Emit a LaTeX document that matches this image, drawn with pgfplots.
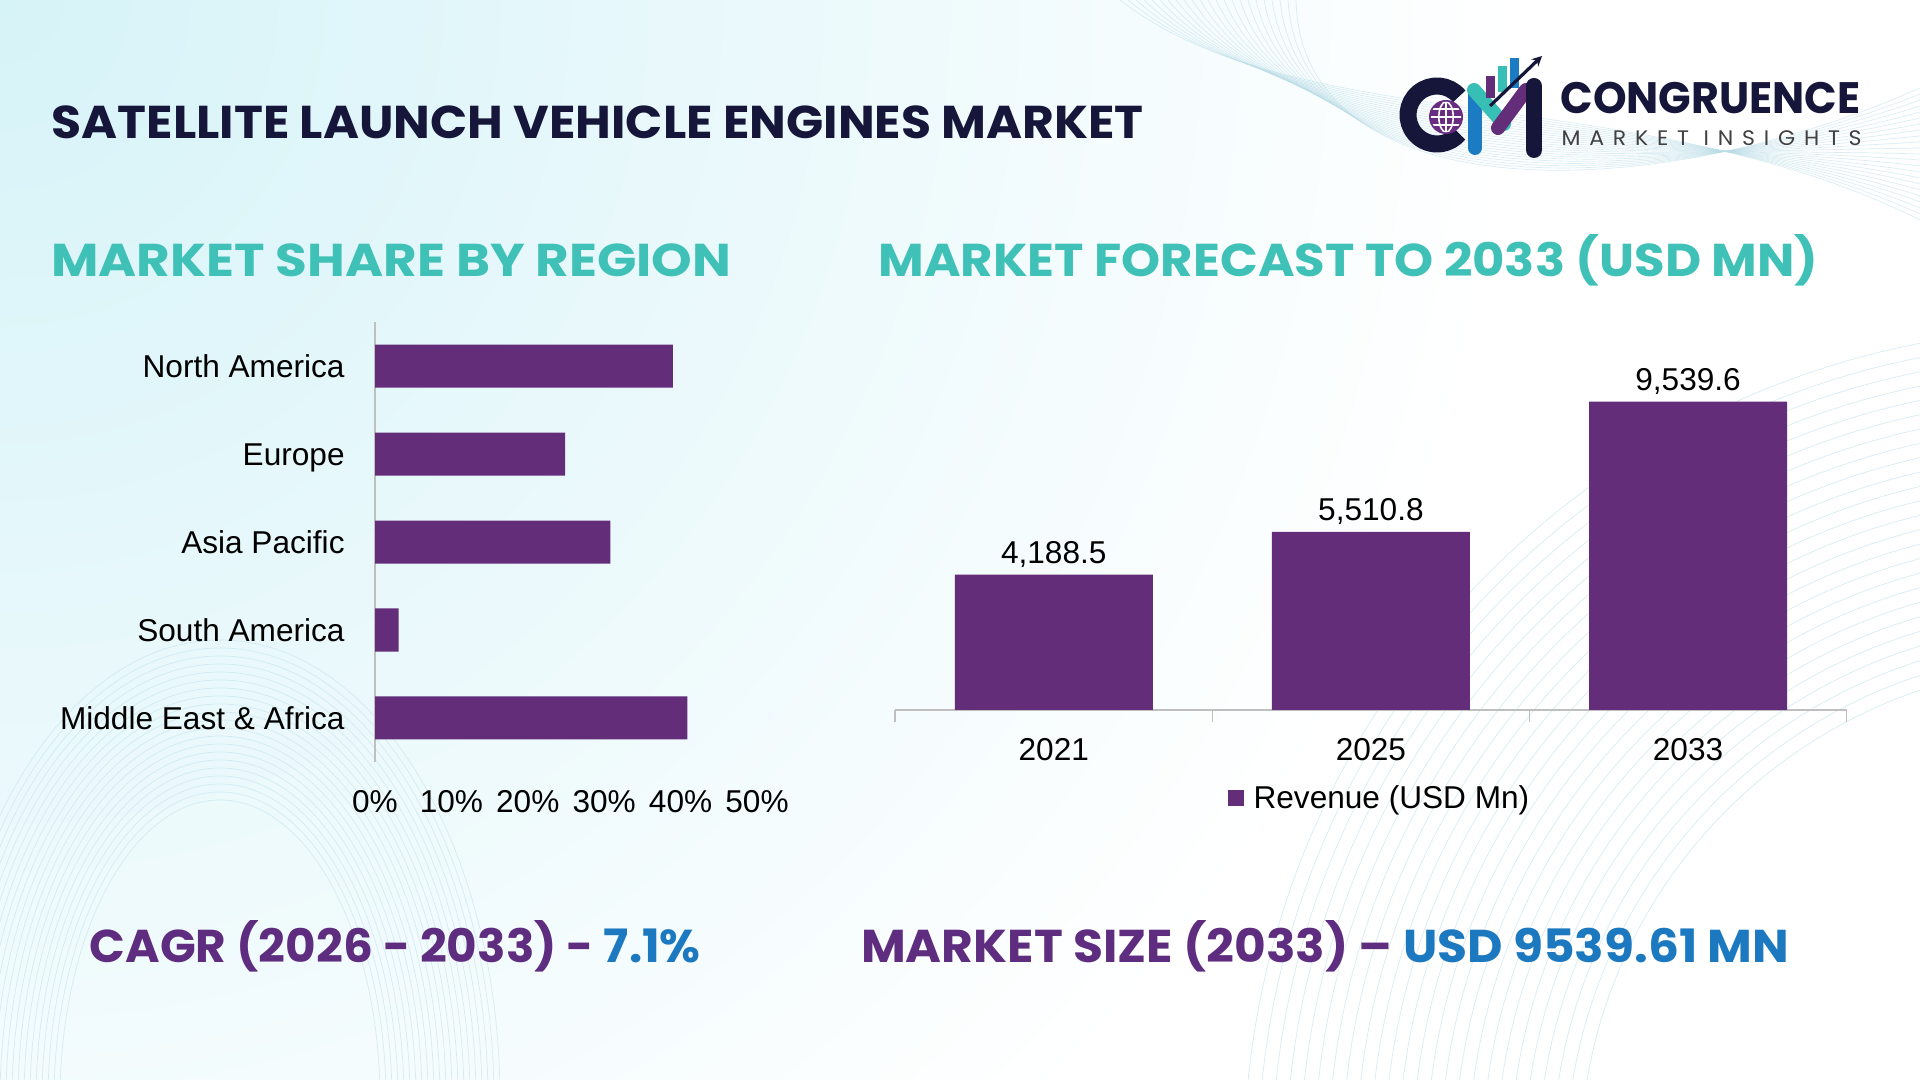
\documentclass[border=0pt]{standalone}
\usepackage{pgfplots}
\pgfplotsset{compat=1.18}
\usepackage{graphicx}
\usepackage{fontspec}
\usetikzlibrary{arrows.meta}
\setmainfont{Liberation Sans}
\newfontfamily\headfont{Poppins}
\newfontfamily\logosubfont{Poppins}[LetterSpace=40]

\definecolor{barpurple}{HTML}{632D7A}
\definecolor{titlenavy}{HTML}{15163A}
\definecolor{headteal}{HTML}{3FC1B7}
\definecolor{statpurple}{HTML}{5E2D80}
\definecolor{statblue}{HTML}{1C79C0}
\definecolor{logoblue}{HTML}{1B7CC3}
\definecolor{logoteal}{HTML}{38BFB5}
\definecolor{logopurple}{HTML}{6A2C82}
\definecolor{bgcyan}{HTML}{D6F3F8}
\definecolor{meshblue}{HTML}{B9DDE8}
\definecolor{axisgray}{HTML}{BFBFBF}

% squeeze or stretch a line of text horizontally to a given width (in pt)
\newlength\natw
\newcommand\fitw[2]{\settowidth\natw{#2}\pgfmathsetmacro\fitsc{#1/\natw}\scalebox{\fitsc}[1]{#2}}

\newcommand\chartfont{\fontsize{15.8}{18}\selectfont}
\newcommand\headsize{\headfont\bfseries\fontsize{23}{26}\selectfont}

% regional share (%)
\pgfplotstableread{
idx share
0 39.0
1 24.9
2 30.8
3 3.1
4 40.9
}\regionshare

% revenue forecast (USD Mn)
\pgfplotstableread{
idx revenue
0 4188.5
1 5510.8
2 9539.6
}\revenue

\pgfplotsset{/pgf/number format/assume math mode=true}

\begin{document}
\begin{tikzpicture}[x=1pt,y=1pt]
\path[use as bounding box] (0,0) rectangle (960,540);

% background
\begin{scope}
\clip (0,0) rectangle (960,540);
\fill[white] (0,0) rectangle (960,540);
\shade[inner color=bgcyan, outer color=white] (0,540) circle (760);
% faint wave mesh
\foreach \r in {250,257,...,420}
  \draw[meshblue, line width=0.35pt, opacity=0.55] (1040,-42) circle (\r);
\foreach \i in {0,...,22}
  \draw[meshblue, line width=0.35pt, opacity=0.5]
    (560+\i*4,540) .. controls (650,470-\i*1.5) and (820,500-\i*3) .. (960,430+\i*3);
\foreach \i in {0,...,20}
  \draw[meshblue, line width=0.35pt, opacity=0.5]
    (110,-10) ellipse ({80+\i*3} and {150+\i*4});
\end{scope}

% headings
\node[anchor=base west, inner sep=0, text=titlenavy] at (25.7,470.7)
  {\fitw{546}{\headsize SATELLITE LAUNCH VEHICLE ENGINES MARKET}};
\node[anchor=base west, inner sep=0, text=headteal] at (25.5,401.6)
  {\fitw{340}{\headsize MARKET SHARE BY REGION}};
\node[anchor=base west, inner sep=0, text=headteal] at (439,401.6)
  {\fitw{470}{\headsize MARKET FORECAST TO 2033 (USD MN)}};
\node[anchor=base west, inner sep=0] at (44.7,58.8)
  {\fitw{305.5}{\headsize\color{statpurple}CAGR (2026 - 2033) - \color{statblue}7.1\%}};
\node[anchor=base west, inner sep=0] at (430.4,58.8)
  {\fitw{464}{\headsize\color{statpurple}MARKET SIZE (2033) – \color{statblue}USD 9539.61 MN}};

% logo mark
\draw[titlenavy, line width=8.5pt] ([shift={(40:14.5)}]718.5,482.5) arc (40:320:14.5);
\fill[logopurple] (723,481.5) circle (8.5);
\begin{scope}
\clip (723,481.5) circle (7.6);
\draw[white, line width=0.8pt] (723,481.5) ellipse (3.6 and 7.6);
\draw[white, line width=0.8pt] (723,473) -- (723,490);
\draw[white, line width=0.8pt] (714,481.5) -- (732,481.5);
\draw[white, line width=0.8pt] (714,485.5) -- (732,485.5);
\draw[white, line width=0.8pt] (714,477.5) -- (732,477.5);
\end{scope}
\draw[logoblue, line width=7pt, line cap=round] (737.5,466) -- (737.5,493);
\draw[logoteal, line width=7pt, line cap=round] (737,495) -- (752,478);
\draw[barpurple, line width=7pt, line cap=round] (749,476) -- (763,495);
\draw[titlenavy, line width=8pt, line cap=round] (767,465) -- (767,497);
\fill[barpurple] (743,491) rectangle (747.5,502);
\fill[logoteal] (749,494) rectangle (753.5,507);
\fill[logoblue] (755,496) rectangle (759.5,511);
\draw[titlenavy, line width=1.6pt, -{Stealth[length=5pt,width=5pt]}] (745,487) -- (771,512);
\node[anchor=base west, inner sep=0, text=titlenavy] at (780,483)
  {\fitw{150}{\headfont\bfseries\fontsize{22}{24}\selectfont CONGRUENCE}};
\node[anchor=base west, inner sep=0, text=black!75] at (780.6,467.1)
  {\fitw{150}{\logosubfont\fontsize{10.5}{12}\selectfont MARKET INSIGHTS}};

% market share by region
\begin{axis}[
  at={(187.5pt,159pt)}, anchor=south west,
  scale only axis, width=191pt, height=220pt,
  xbar, bar width=21.5pt,
  xmin=0, xmax=50, ymin=-0.5, ymax=4.5, y dir=reverse,
  separate axis lines,
  axis x line*=bottom, x axis line style={draw=none},
  axis y line*=left, y axis line style={draw=axisgray, line width=0.6pt, -},
  major tick length=0pt,
  ytick={0,1,2,3,4},
  yticklabels={North America,Europe,Asia Pacific,South America,Middle East \& Africa},
  xtick={0,10,20,30,40,50},
  xticklabel={\pgfmathprintnumber{\tick}\%},
  tick label style={font=\chartfont, text=black},
  xticklabel style={anchor=center, yshift=-20pt, inner sep=0pt},
  yticklabel style={anchor=east, xshift=-15pt, inner sep=0pt, text height=11.3pt, text depth=0pt},
  clip=false,
]
\addplot[fill=barpurple, draw=none] table[x=share, y=idx] {\regionshare};
\end{axis}

% revenue forecast
\begin{axis}[
  at={(447.6pt,185pt)}, anchor=south west,
  scale only axis, width=475.7pt, height=194pt,
  ybar, bar width=99pt,
  xmin=-0.5, xmax=2.5, ymin=0, ymax=12000,
  separate axis lines,
  axis y line=none,
  axis x line*=bottom, x axis line style={draw=axisgray, line width=0.8pt, -},
  xtick={0,1,2}, xticklabels={2021,2025,2033},
  major tick length=0pt,
  minor xtick={-0.5,0.5,1.5,2.5}, minor tick length=6pt, xtick align=outside,
  minor tick style={draw=axisgray, line width=0.8pt},
  tick label style={font=\chartfont, text=black},
  xticklabel style={anchor=center, yshift=-20pt, inner sep=0pt},
  nodes near coords={\pgfmathprintnumber[fixed, fixed zerofill, precision=1, 1000 sep={,}]{\pgfplotspointmeta}},
  nodes near coords style={font=\chartfont, text=black, anchor=south, inner sep=3.2pt},
  legend style={at={(0.51,-0.227)}, anchor=center, draw=none, fill=none, font=\chartfont},
  legend image code/.code={\fill[barpurple] (0pt,-4pt) rectangle (8pt,4pt); \path (11pt,0pt);},
  clip=false,
]
\addplot[fill=barpurple, draw=none] table[x=idx, y=revenue] {\revenue};
\legend{Revenue (USD Mn)}
\end{axis}
\end{tikzpicture}
\end{document}
